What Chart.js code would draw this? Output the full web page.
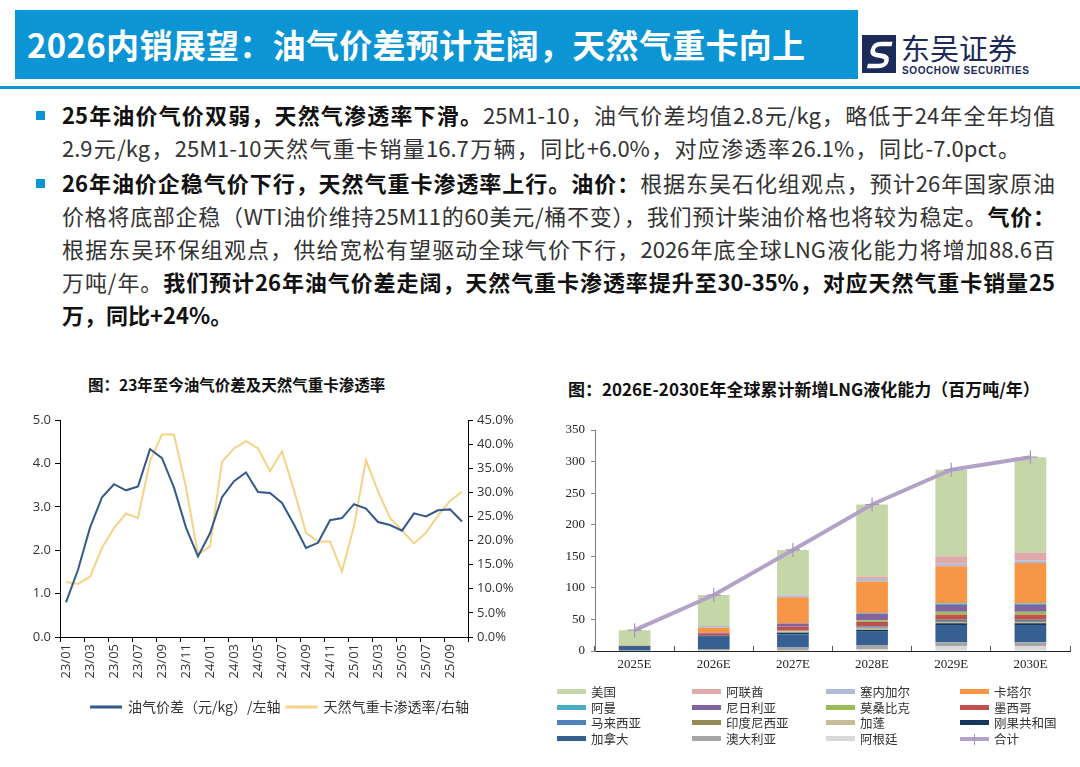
<!DOCTYPE html>
<html>
<head>
<meta charset="utf-8">
<script src="https://cdn.jsdelivr.net/npm/chart.js@4.4.0/dist/chart.umd.min.js"></script>
<style>
  html, body { margin: 0; padding: 0; background: #fff; }
  body { width: 1080px; height: 767px; position: relative; overflow: hidden;
         font-family: "Noto Sans CJK SC", "Noto Sans", sans-serif; }
  .hdr { position: absolute; left: 15px; top: 10px; width: 843px; height: 69px; background: #0b95d4; }
  .hdr h1 { margin: 0; position: absolute; left: 12px; top: 0; line-height: 69px; font-size: 33px;
            color: #fff; font-weight: 700; white-space: nowrap; letter-spacing: 0.3px; }
  .rule { position: absolute; left: 0; top: 86px; width: 1080px; height: 3px; background: #0b95d4; }
  .logo-cn { position: absolute; left: 901px; top: 29px; font-size: 29px; line-height: 36px; color: #1c2a5a; white-space: nowrap; }
  .logo-en { position: absolute; left: 902px; top: 65px; font-size: 10px; line-height: 11px; font-weight: 700; color: #1c2a5a;
             font-family: "Liberation Sans", Arial, sans-serif; letter-spacing: 0.6px; white-space: nowrap; }
  .logo-ico { position: absolute; left: 862px; top: 35px; }
  .txt { position: absolute; left: 62px; top: 98px; width: 993px; font-size: 22px; line-height: 33px; color: #333; }
  .txt .ln { white-space: nowrap; text-align: justify; text-align-last: justify; }
  .txt .ln.nat { text-align-last: left; }
  .txt .gap { height: 2px; }
  .txt b { color: #111; }
  .bullet { position: absolute; left: 36px; width: 9px; height: 9px; background: #0b95d4; }
  .ctitle { position: absolute; font-weight: 700; color: #111; white-space: nowrap; }
  #gapBox { position: absolute; left: 20px; top: 405px; width: 520px; height: 319px; }
  #lngBox { position: absolute; left: 545px; top: 400px; width: 535px; height: 285px; }
  #lngLegend { position: absolute; left: 557px; top: 684px; width: 520px;
               display: grid; grid-template-columns: 135px 134px 134px 117px; grid-auto-rows: 15.6px;
               font-family: "Liberation Serif", "Noto Sans CJK SC", serif; font-size: 12.5px; color: #333; }
  #lngLegend .it { display: flex; align-items: center; white-space: nowrap; }
  #lngLegend .sw { width: 29px; height: 5px; margin-right: 5px; position: relative; flex: none; }
  #lngLegend .sw.ln i { position: absolute; left: 14px; top: -3px; width: 1px; height: 11px; }
</style>
</head>
<body>
<div class="hdr"><h1>2026内销展望：油气价差预计走阔，天然气重卡向上</h1></div>
<svg class="logo-ico" width="34" height="38" viewBox="0 0 34 38">
  <rect x="0" y="0" width="34" height="38" fill="#1c2a5a"/>
  <path d="M27 9 L16 9 Q9 9 9 15 Q9 19 14 20 L20 21 Q25 22 25 26 Q25 31 18 31 L7 31"
        stroke="#fff" stroke-width="4.5" fill="none" transform="skewX(-12) translate(5 0)"/>
</svg>
<div class="logo-cn">东吴证券</div>
<div class="logo-en">SOOCHOW SECURITIES</div>
<div class="rule"></div>

<div class="bullet" style="top:111px"></div>
<div class="bullet" style="top:179px"></div>
<div class="txt">
  <div class="ln"><b>25年油价气价双弱，天然气渗透率下滑。</b>25M1-10，油气价差均值2.8元/kg，略低于24年全年均值</div>
  <div class="ln" style="width:958px">2.9元/kg，25M1-10天然气重卡销量16.7万辆，同比+6.0%，对应渗透率26.1%，同比-7.0pct。</div>
  <div class="gap"></div>
  <div class="ln"><b>26年油价企稳气价下行，天然气重卡渗透率上行。油价：</b>根据东吴石化组观点，预计26年国家原油</div>
  <div class="ln">价格将底部企稳（WTI油价维持25M11的60美元/桶不变），我们预计柴油价格也将较为稳定。<b>气价：</b></div>
  <div class="ln">根据东吴环保组观点，供给宽松有望驱动全球气价下行，2026年底全球LNG液化能力将增加88.6百</div>
  <div class="ln">万吨/年。<b>我们预计26年油气价差走阔，天然气重卡渗透率提升至30-35%，对应天然气重卡销量25</b></div>
  <div class="ln nat"><b>万，同比+24%。</b></div>
</div>

<div class="ctitle" style="left:88px;top:373px;font-size:15.5px;">图：23年至今油气价差及天然气重卡渗透率</div>
<div class="ctitle" style="left:568px;top:376px;font-size:17px;">图：2026E-2030E年全球累计新增LNG液化能力（百万吨/年）</div>

<div id="gapBox"><canvas id="gapChart" width="520" height="319"></canvas></div>
<div id="lngBox"><canvas id="lngChart" width="535" height="285"></canvas></div>
<div id="lngLegend"></div>

<script>
// ---- 左图：油气价差 / 天然气重卡渗透率（月度） ----
const months = [
  '23/01','23/02','23/03','23/04','23/05','23/06','23/07','23/08','23/09','23/10','23/11','23/12',
  '24/01','24/02','24/03','24/04','24/05','24/06','24/07','24/08','24/09','24/10','24/11','24/12',
  '25/01','25/02','25/03','25/04','25/05','25/06','25/07','25/08','25/09','25/10'
];
// 元/kg，左轴
const priceGap = [
  0.80, 1.55, 2.52, 3.22, 3.52, 3.38, 3.47, 4.33, 4.12, 3.44, 2.52, 1.86,
  2.39, 3.22, 3.59, 3.79, 3.34, 3.32, 3.09, 2.59, 2.05, 2.17, 2.69, 2.74,
  3.06, 2.96, 2.65, 2.58, 2.45, 2.85, 2.78, 2.92, 2.94, 2.66
];
// %，右轴
const gasPenetration = [
  11.4, 11.0, 12.5, 18.5, 22.6, 25.6, 24.7, 36.5, 42.0, 42.0, 31.0, 17.1,
  18.8, 36.3, 39.1, 40.6, 39.1, 34.4, 38.5, 30.4, 21.6, 19.8, 19.8, 13.6,
  23.0, 36.7, 30.2, 24.7, 22.1, 19.4, 21.6, 25.2, 28.2, 30.1
];
const leftTicks  = [0, 1, 2, 3, 4, 5];
const rightTicks = [0, 5, 10, 15, 20, 25, 30, 35, 40, 45];

// ---- 右图：全球累计新增LNG液化能力（百万吨/年） ----
const years = ['2025E', '2026E', '2027E', '2028E', '2029E', '2030E'];
const usa        = [24.5, 49.1, 71.9, 113.9, 137.0, 150.9];
const uae        = [0, 0, 0, 4.0, 12.0, 12.6];
const senegal    = [0, 2.5, 3.0, 4.0, 3.7, 4.2];
const qatar      = [0, 8.0, 41.5, 50.0, 59.0, 64.0];
const oman       = [0, 0, 0, 1.0, 2.6, 2.6];
const nigeria    = [0, 1.0, 5.0, 10.5, 10.5, 10.5];
const mozambique = [0, 0, 0, 2.6, 4.7, 4.7];
const mexico     = [1.0, 3.0, 6.0, 7.0, 8.0, 8.0];
const malaysia   = [0, 0, 0, 2.0, 2.0, 2.0];
const indonesia  = [0, 0, 1.5, 1.5, 1.5, 1.5];
const gabon      = [0, 0.5, 2.0, 2.0, 2.0, 2.0];
const congo      = [1.0, 2.0, 2.6, 3.0, 3.0, 3.0];
const canada     = [6.5, 19.5, 21.0, 21.0, 27.0, 27.0];
const australia  = [0, 3.0, 5.5, 6.5, 6.5, 6.5];
const argentina  = [0, 0, 0, 3.0, 7.5, 7.5];
const totalCapacity = [33, 88.6, 160, 232, 287, 307];
const lngTicks = [0, 50, 100, 150, 200, 250, 300, 350];

// 图例顺序（自上而下堆叠的顺序）
const countries = [
  { name: '美国',       data: usa,        color: '#c5d6a8' },
  { name: '阿联酋',     data: uae,        color: '#dfaaa9' },
  { name: '塞内加尔',   data: senegal,    color: '#aebbd9' },
  { name: '卡塔尔',     data: qatar,      color: '#f79646' },
  { name: '阿曼',       data: oman,       color: '#4bacc6' },
  { name: '尼日利亚',   data: nigeria,    color: '#8064a2' },
  { name: '莫桑比克',   data: mozambique, color: '#9bbb59' },
  { name: '墨西哥',     data: mexico,     color: '#c0504d' },
  { name: '马来西亚',   data: malaysia,   color: '#4f81bd' },
  { name: '印度尼西亚', data: indonesia,  color: '#948a54' },
  { name: '加蓬',       data: gabon,      color: '#c4bd97' },
  { name: '刚果共和国', data: congo,      color: '#17375e' },
  { name: '加拿大',     data: canada,     color: '#376092' },
  { name: '澳大利亚',   data: australia,  color: '#a6a6a6' },
  { name: '阿根廷',     data: argentina,  color: '#d9d9d9' }
];
const totalColor = '#b3a2c7';

const cjk = '"Noto Sans CJK SC", "Noto Sans", sans-serif';
const serif = '"Liberation Serif", "Noto Sans CJK SC", serif';

// 左图
new Chart(document.getElementById('gapChart'), {
  type: 'line',
  data: {
    labels: months,
    datasets: [
      { label: '油气价差（元/kg）/左轴', data: priceGap, yAxisID: 'y',
        borderColor: '#34598a', backgroundColor: '#34598a', borderWidth: 2, pointRadius: 0, tension: 0 },
      { label: '天然气重卡渗透率/右轴', data: gasPenetration, yAxisID: 'y1',
        borderColor: '#f3d386', backgroundColor: '#f3d386', borderWidth: 2, pointRadius: 0, tension: 0 }
    ]
  },
  options: {
    responsive: false,
    animation: false,
    layout: { padding: { top: 15, left: 0, right: 0, bottom: 0 } },
    plugins: {
      legend: {
        position: 'bottom',
        labels: { boxWidth: 30, boxHeight: 1, padding: 6, color: '#333', font: { family: cjk, size: 14 } }
      },
      tooltip: { enabled: false }
    },
    scales: {
      x: {
        offset: true,
        border: { color: '#000' },
        grid: {
          offset: true, drawOnChartArea: false, tickLength: 5,
          tickColor: (ctx) => (ctx.index === undefined || ctx.index % 2 === 0) ? '#000' : 'rgba(0,0,0,0)'
        },
        ticks: {
          autoSkip: false, minRotation: 90, maxRotation: 90, padding: 2,
          color: '#333', font: { family: '"Open Sans", sans-serif', size: 13 },
          callback: (v, i) => i % 2 === 0 ? months[i] : ''
        },
        afterFit: (s) => { s.height = 57; }
      },
      y: {
        min: 0, max: 5,
        border: { color: '#000' },
        grid: { drawOnChartArea: false, tickLength: 5, tickColor: '#000' },
        afterBuildTicks: (s) => { s.ticks = leftTicks.map(v => ({ value: v })); },
        ticks: { color: '#333', padding: 4, font: { family: '"Open Sans", sans-serif', size: 13 },
                 callback: (v) => v.toFixed(1) },
        afterFit: (s) => { s.width = 40; }
      },
      y1: {
        position: 'right', min: 0, max: 45,
        border: { color: '#000' },
        grid: { drawOnChartArea: false, tickLength: 5, tickColor: '#000' },
        afterBuildTicks: (s) => { s.ticks = rightTicks.map(v => ({ value: v })); },
        ticks: { color: '#333', padding: 4, font: { family: '"Open Sans", sans-serif', size: 13 },
                 callback: (v) => v.toFixed(1) + '%' },
        afterFit: (s) => { s.width = 72; }
      }
    }
  }
});

// 右图：堆叠从下往上 = 图例倒序
const barSets = countries.slice().reverse().map(c => ({
  type: 'bar', label: c.name, data: c.data, backgroundColor: c.color, borderWidth: 0,
  barPercentage: 0.4, categoryPercentage: 1.0, stack: 'cap', order: 1
}));

new Chart(document.getElementById('lngChart'), {
  type: 'bar',
  data: {
    labels: years,
    datasets: [
      { type: 'line', label: '合计', data: totalCapacity, stack: 'total', order: 0,
        borderColor: totalColor, backgroundColor: totalColor, borderWidth: 4,
        pointStyle: 'cross', pointRadius: 7, pointBorderWidth: 1.2, pointBorderColor: '#a795bd', tension: 0 },
      ...barSets
    ]
  },
  options: {
    responsive: false,
    animation: false,
    layout: { padding: { top: 30, left: 0, right: 10, bottom: 0 } },
    plugins: { legend: { display: false }, tooltip: { enabled: false } },
    scales: {
      x: {
        stacked: true,
        border: { color: '#222' },
        grid: { offset: true, drawOnChartArea: false, tickLength: -5, tickColor: '#555' },
        ticks: { color: '#222', padding: 11, font: { family: serif, size: 13 } },
        afterFit: (s) => { s.height = 34; }
      },
      y: {
        stacked: true, min: 0, max: 350,
        border: { color: '#808080' },
        grid: { drawOnChartArea: false, tickLength: 4, tickColor: '#808080' },
        afterBuildTicks: (s) => { s.ticks = lngTicks.map(v => ({ value: v })); },
        ticks: { color: '#222', padding: 6, font: { family: serif, size: 13 } },
        afterFit: (s) => { s.width = 50; }
      }
    }
  }
});

// 右图图例（4列网格）
const legendBox = document.getElementById('lngLegend');
countries.forEach(c => {
  const it = document.createElement('div');
  it.className = 'it';
  it.innerHTML = '<span class="sw" style="background:' + c.color + '"></span>' + c.name;
  legendBox.appendChild(it);
});
const tot = document.createElement('div');
tot.className = 'it';
tot.innerHTML = '<span class="sw ln" style="background:' + totalColor + ';height:4px"><i style="background:#a795bd"></i></span>合计';
legendBox.appendChild(tot);
</script>
</body>
</html>
